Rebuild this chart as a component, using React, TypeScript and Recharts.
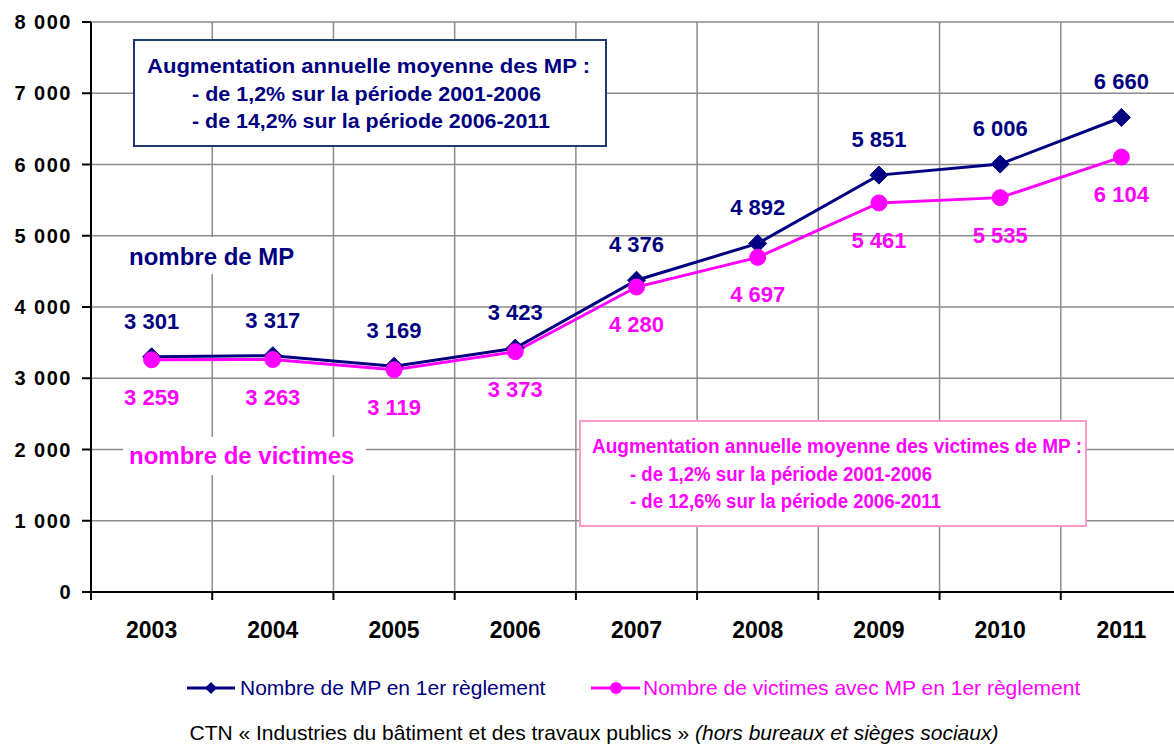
import React from 'react';
import { LineChart, Line, XAxis, YAxis, CartesianGrid, LabelList, Legend } from 'recharts';

const years = ['2003', '2004', '2005', '2006', '2007', '2008', '2009', '2010', '2011'];
const mpValues = [3301, 3317, 3169, 3423, 4376, 4892, 5851, 6006, 6660];
const victimValues = [3259, 3263, 3119, 3373, 4280, 4697, 5461, 5535, 6104];
const yTicks = [0, 1000, 2000, 3000, 4000, 5000, 6000, 7000, 8000];
const mpName = 'Nombre de MP en 1er règlement';
const victimName = 'Nombre de victimes avec MP en 1er règlement';
const box1Lines = ['Augmentation annuelle moyenne des MP :', '- de 1,2% sur la période 2001-2006', '- de 14,2% sur la période 2006-2011'];
const box2Lines = ['Augmentation annuelle moyenne des victimes de MP :', '- de 1,2% sur la période 2001-2006', '- de 12,6% sur la période 2006-2011'];
const footerMain = 'CTN « Industries du bâtiment et des travaux publics » ';
const footerItalic = '(hors bureaux et sièges sociaux)';

const data = years.map((year, i) => ({ year, mp: mpValues[i], victimes: victimValues[i] }));

const NAVY = '#000080';
const PINK = '#FF00FF';
const FONT = '"Liberation Sans", Arial, sans-serif';
const CHART_W = 1200;
const CHART_H = 744;
const MARGIN = { top: 22, right: 18, left: 0, bottom: 0 };
const Y_W = 91;
const X_H = 152;
const BAND = (CHART_W - MARGIN.right - MARGIN.left - Y_W) / years.length;

const fmt = (v: number) => String(v).replace(/\B(?=(\d{3})+(?!\d))/g, ' ');

const Diamond = (props: any) => {
  const { cx, cy } = props;
  if (cx == null || cy == null) return null;
  const s = 9;
  return <polygon points={`${cx},${cy - s} ${cx + s},${cy} ${cx},${cy + s} ${cx - s},${cy}`} fill={NAVY} stroke={NAVY} />;
};

const Circle = (props: any) => {
  const { cx, cy } = props;
  if (cx == null || cy == null) return null;
  return <circle cx={cx} cy={cy} r={8} fill={PINK} stroke={PINK} />;
};

const XTick = (props: any) => {
  const { x, y, payload } = props;
  return (
    <g>
      <line x1={x - BAND / 2} y1={y} x2={x - BAND / 2} y2={y + 8} stroke="#000" strokeWidth={2} />
      <text x={x} y={y + 46} textAnchor="middle" fontSize={23} fontWeight="bold" fill="#000" fontFamily={FONT}>
        {payload.value}
      </text>
    </g>
  );
};

const mpLabel = (props: any) => {
  const { x, y, value } = props;
  return (
    <text x={x} y={y - 28} textAnchor="middle" fontSize={22} fontWeight="bold" fill={NAVY} fontFamily={FONT}>
      {fmt(value)}
    </text>
  );
};

const victimLabel = (props: any) => {
  const { x, y, value } = props;
  return (
    <text x={x} y={y + 45} textAnchor="middle" fontSize={22} fontWeight="bold" fill={PINK} fontFamily={FONT}>
      {fmt(value)}
    </text>
  );
};

const LegendContent = () => (
  <div style={{ position: 'relative', width: 1174, height: 24, fontFamily: FONT, fontSize: 21 }}>
    <div style={{ position: 'absolute', left: 187, top: 0, display: 'flex', alignItems: 'center', height: 24 }}>
      <svg width={50} height={24}>
        <line x1={0} y1={12} x2={48} y2={12} stroke={NAVY} strokeWidth={3} />
        <polygon points="24,6 30,12 24,18 18,12" fill={NAVY} />
      </svg>
      <span style={{ color: NAVY, marginLeft: 3, whiteSpace: 'nowrap' }}>{mpName}</span>
    </div>
    <div style={{ position: 'absolute', left: 591, top: 0, display: 'flex', alignItems: 'center', height: 24 }}>
      <svg width={50} height={24}>
        <line x1={0} y1={12} x2={49} y2={12} stroke={PINK} strokeWidth={3} />
        <circle cx={25} cy={12} r={6} fill={PINK} />
      </svg>
      <span style={{ color: PINK, marginLeft: 2, whiteSpace: 'nowrap' }}>{victimName}</span>
    </div>
  </div>
);

const boxText = (x: number, y: number, w: number, fill: string, s: string) => (
  <text x={x} y={y} fontSize={20} fontWeight="bold" fill={fill} textLength={w} lengthAdjust="spacingAndGlyphs">
    {s}
  </text>
);

export default function App() {
  return (
    <div style={{ position: 'fixed', left: 0, top: 0, width: 1174, height: 744, overflow: 'hidden', background: '#fff' }}>
      <LineChart width={CHART_W} height={CHART_H} data={data} margin={MARGIN}>
        <CartesianGrid
          stroke="#8c8c8c"
          strokeWidth={1.5}
          verticalCoordinatesGenerator={({ offset }: any) =>
            years.slice(1).map((_, i) => offset.left + (i + 1) * (offset.width / years.length))
          }
        />
        <YAxis
          width={Y_W}
          domain={[0, 8000]}
          ticks={yTicks}
          interval={0}
          tickFormatter={fmt}
          axisLine={{ stroke: '#000', strokeWidth: 2 }}
          tickLine={{ stroke: '#000', strokeWidth: 2 }}
          tickSize={9}
          tickMargin={10}
          tick={{ fontSize: 20, fontWeight: 'bold', fill: '#000', fontFamily: FONT, letterSpacing: 1.5 }}
        />
        <XAxis
          dataKey="year"
          height={X_H}
          interval={0}
          padding={{ left: BAND / 2, right: BAND / 2 }}
          axisLine={{ stroke: '#000', strokeWidth: 2 }}
          tickLine={false}
          tickSize={0}
          tickMargin={0}
          tick={<XTick />}
        />
        <Legend
          layout="horizontal"
          verticalAlign="middle"
          align="center"
          wrapperStyle={{ position: 'absolute', left: 0, top: 676, width: 1174 }}
          content={<LegendContent />}
        />
        <Line
          type="linear"
          dataKey="mp"
          name={mpName}
          stroke={NAVY}
          strokeWidth={3}
          dot={<Diamond />}
          activeDot={false}
          isAnimationActive={false}
        >
          <LabelList dataKey="mp" content={mpLabel} />
        </Line>
        <Line
          type="linear"
          dataKey="victimes"
          name={victimName}
          stroke={PINK}
          strokeWidth={3}
          dot={<Circle />}
          activeDot={false}
          isAnimationActive={false}
        >
          <LabelList dataKey="victimes" content={victimLabel} />
        </Line>
      </LineChart>
      <svg
        width={1174}
        height={744}
        style={{ position: 'absolute', left: 0, top: 0, pointerEvents: 'none', zIndex: 5 }}
        fontFamily={FONT}
      >
        <rect x={134} y={40} width={472} height={106} fill="#fff" stroke="#1F3A70" strokeWidth={2} />
        {boxText(147, 73, 443, NAVY, box1Lines[0])}
        {boxText(192, 101, 349, NAVY, box1Lines[1])}
        {boxText(192, 128, 358, NAVY, box1Lines[2])}

        <rect x={580} y={421} width={506} height={105} fill="#fff" stroke="#FF99CC" strokeWidth={2} />
        {boxText(592, 453, 490, PINK, box2Lines[0])}
        {boxText(630, 481, 302, PINK, box2Lines[1])}
        {boxText(630, 508, 311, PINK, box2Lines[2])}

        <rect x={125} y={237} width={178} height={37} fill="#fff" />
        <text x={129} y={265} fontSize={24} fontWeight="bold" fill={NAVY}>nombre de MP</text>

        <rect x={123} y={437} width={243} height={38} fill="#fff" />
        <text x={129} y={464} fontSize={24} fontWeight="bold" fill={PINK}>nombre de victimes</text>

        <text x={594} y={740} fontSize={21} fill="#000" textAnchor="middle">
          {footerMain}
          <tspan fontStyle="italic">{footerItalic}</tspan>
        </text>
      </svg>
    </div>
  );
}
